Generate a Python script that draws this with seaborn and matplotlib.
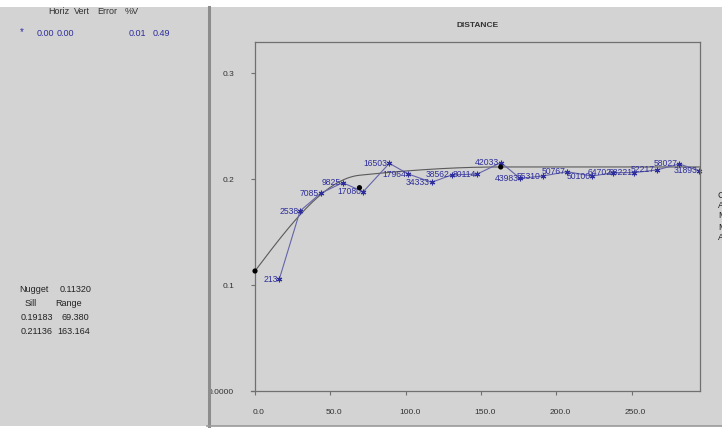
import numpy as np
import pandas as pd
import matplotlib
matplotlib.use("Agg")
import matplotlib.pyplot as plt
import matplotlib.transforms as mtransforms
from matplotlib.patches import Rectangle
from matplotlib.lines import Line2D
import seaborn as sns

# Experimental semivariogram: lag distance, semivariance, number of pairs
lag = [16.1, 29.9, 43.6, 58.2, 71.9, 89.2, 101.8, 117.3, 130.5, 147.6,
       163.3, 176.0, 191.0, 207.0, 224.0, 238.0, 251.7, 266.7, 281.8, 295.0]
gamma = [0.1054, 0.1698, 0.1865, 0.1965, 0.1880, 0.2148, 0.2047, 0.1969, 0.2038, 0.2047,
         0.2155, 0.2006, 0.2028, 0.2069, 0.2028, 0.2060, 0.2060, 0.2085, 0.2142, 0.2078]
pairs = [213, 2538, 7085, 9825, 17080, 16503, 17964, 34333, 38562, 80114,
         42033, 43983, 55310, 50767, 50100, 64702, 68221, 52217, 58027, 31893]

# Fitted nested spherical model
nugget = 0.11320
sills = [0.19183, 0.21136]
ranges = [69.380, 163.164]

x_ticks = [0, 50, 100, 150, 200, 250]
x_tick_labels = ["0.0", "50.0", "100.0", "150.0", "200.0", "250.0"]
y_ticks = [0.0, 0.1, 0.2, 0.3]
y_tick_labels = ["0.0000", "0.1", "0.2", "0.3"]

W, H = 722, 428
BG = "#d3d3d3"
NAVY = "#2e2e9c"
LINE_BLUE = "#6464aa"
FRAME = "#707070"

plt.rcParams["font.family"] = ["Liberation Sans", "DejaVu Sans"]

fig = plt.figure(figsize=(W / 100, H / 100), dpi=100, facecolor=BG)


def fx(px):
    return px / W


def fy(py):
    return 1 - py / H


# window chrome: white strips and panel divider
fig.patches.append(Rectangle((0, fy(7)), 1, 7 / H, transform=fig.transFigure,
                             facecolor="white", edgecolor="none", zorder=0))
fig.patches.append(Rectangle((0, 0), 1, 2.5 / H, transform=fig.transFigure,
                             facecolor="white", edgecolor="none", zorder=0))
fig.lines.append(Line2D([fx(208.5), fx(208.5)], [fy(7), fy(426)], transform=fig.transFigure,
                        color="#8c8c8c", lw=2.2))
fig.lines.append(Line2D([fx(207), 1], [fy(425.5), fy(425.5)], transform=fig.transFigure,
                        color="#9a9a9a", lw=1.2))

# left panel: search/anisotropy header
txt_kw = dict(transform=fig.transFigure, fontsize=6.5, va="center")
for label, px in [("Horiz", 48), ("Vert", 74), ("Error", 97), ("%V", 125)]:
    fig.text(fx(px), fy(12), label, color="#333333", **txt_kw)
fig.text(fx(20), fy(32), "*", color=NAVY, fontsize=7, transform=fig.transFigure, va="center")
for label, px in [("0.00", 37), ("0.00", 57), ("0.01", 129), ("0.49", 153)]:
    fig.text(fx(px), fy(33), label, color=NAVY, **txt_kw)

# left panel: model parameters
fig.text(fx(19), fy(289), "Nugget", color="#222222", **txt_kw)
fig.text(fx(60), fy(289), f"{nugget:.5f}", color="#222222", **txt_kw)
fig.text(fx(25), fy(303), "Sill", color="#222222", **txt_kw)
fig.text(fx(55), fy(303), "Range", color="#222222", **txt_kw)
for i, (s, r) in enumerate(zip(sills, ranges)):
    yy = 317 + i * 15
    fig.text(fx(21), fy(yy), f"{s:.5f}", color="#222222", **txt_kw)
    fig.text(fx(62 if r < 100 else 57), fy(yy), f"{r:.3f}", color="#222222", **txt_kw)

# partially visible side legend at the right edge
for ch, py in zip(["C", "A", "M", "M", "A"], [196, 206, 216, 227, 237]):
    fig.text(fx(718), fy(py), ch, color="#222222", **txt_kw)

# semivariogram axes
ax = fig.add_axes([fx(255), fy(391), fx(700) - fx(255), fy(42) - fy(391)])
ax.set_facecolor(BG)
x_max = (700 - 255) / 1.506
y_max = (391 - 42) / 1060
ax.set_xlim(0, x_max)
ax.set_ylim(0, y_max)

# model curve
h = np.linspace(0, x_max, 400)


def spherical(dist, a):
    r = np.minimum(dist / a, 1.0)
    return 1.5 * r - 0.5 * r ** 3


c1 = sills[0] - nugget
c2 = sills[1] - sills[0]
model = nugget + c1 * spherical(h, ranges[0]) + c2 * spherical(h, ranges[1])
model_df = pd.DataFrame({"h": h, "g": model})
sns.lineplot(data=model_df, x="h", y="g", ax=ax, color="#5a5a5a", lw=0.8,
             sort=False, estimator=None)

# experimental points
exp_df = pd.DataFrame({"lag": lag, "gamma": gamma, "pairs": pairs})
sns.lineplot(data=exp_df, x="lag", y="gamma", ax=ax, color=LINE_BLUE, lw=0.8,
             sort=False, estimator=None, marker=(6, 2, 0), markersize=4,
             markeredgecolor=NAVY, markeredgewidth=0.8, clip_on=False)
for xv, yv, n in zip(lag, gamma, pairs):
    ax.annotate(str(n), (xv, yv), xytext=(-1.2, 0), textcoords="offset points",
                ha="right", va="center", fontsize=6.2, color=NAVY, annotation_clip=False)

# control points of the model (nugget and sills at their ranges)
ctrl_x = [0.0] + ranges
ctrl_y = [nugget] + sills
sns.scatterplot(x=ctrl_x, y=ctrl_y, ax=ax, color="black", s=14, edgecolor="none",
                zorder=5, clip_on=False)

ax.set_xlabel("")
ax.set_ylabel("")
ax.set_title("DISTANCE", fontsize=6, fontweight="bold", color="#333333", pad=10.5)

for side in ["top", "right", "left", "bottom"]:
    ax.spines[side].set_color(FRAME)
    ax.spines[side].set_linewidth(0.9)
ax.spines["bottom"].set_bounds(-2.7, x_max)

ax.set_xticks(x_ticks)
ax.set_xticklabels(x_tick_labels)
ax.set_yticks(y_ticks)
ax.set_yticklabels(y_tick_labels)
ax.tick_params(axis="x", direction="out", length=3, width=0.8, color=FRAME,
               labelsize=6, labelcolor="#333333", pad=10)
ax.tick_params(axis="y", direction="out", length=3, width=0.8, color=FRAME,
               labelsize=6, labelcolor="#333333", pad=12)
shift = mtransforms.ScaledTranslation(4 / 100, 0, fig.dpi_scale_trans)
for lbl in ax.get_xticklabels():
    lbl.set_transform(lbl.get_transform() + shift)
ax.grid(False)

fig.savefig("out.png", dpi=100, facecolor=BG)
